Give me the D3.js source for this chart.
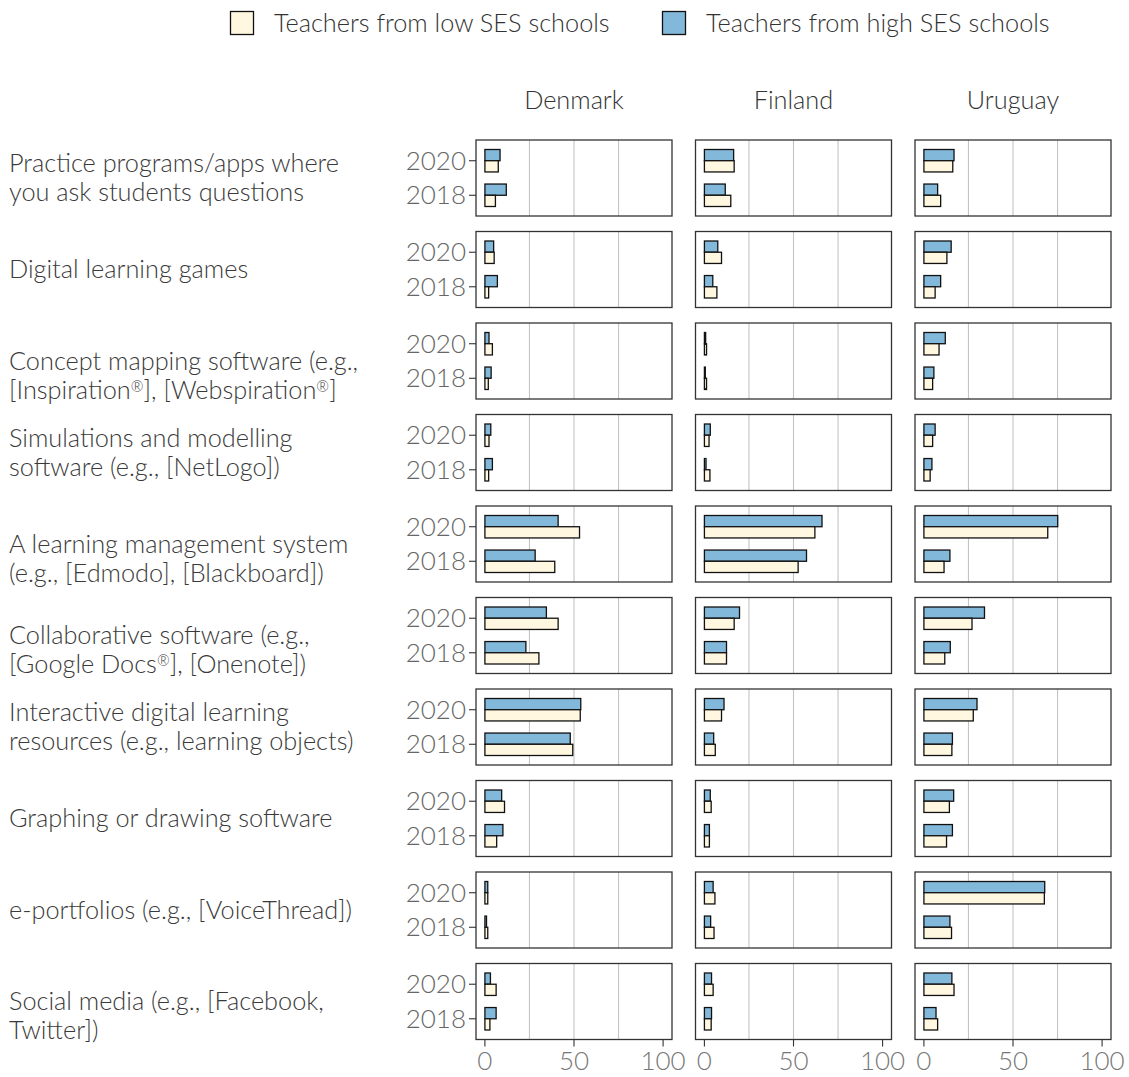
<!DOCTYPE html>
<html>
<head>
<meta charset="utf-8">
<script src="https://cdn.jsdelivr.net/npm/d3@7"></script>
<style>
  body { margin: 0; background: #fff; }
  svg text { font-family: Lato, "DejaVu Sans", sans-serif; font-weight: 300; }
</style>
</head>
<body>
<div id="chart"></div>
<script>
// row labels, pre-wrapped ('' = empty first line, as in the original)
const categories = [
  ['Practice programs/apps where', 'you ask students questions'],
  ['Digital learning games'],
  ['', 'Concept mapping software (e.g.,', '[Inspiration®], [Webspiration®]'],
  ['Simulations and modelling', 'software (e.g., [NetLogo])'],
  ['', 'A learning management system', '(e.g., [Edmodo], [Blackboard])'],
  ['', 'Collaborative software (e.g.,', '[Google Docs®], [Onenote])'],
  ['Interactive digital learning', 'resources (e.g., learning objects)'],
  ['Graphing or drawing software'],
  ['e-portfolios (e.g., [VoiceThread])'],
  ['', 'Social media (e.g., [Facebook,', 'Twitter])']
]
const countries = ['Denmark', 'Finland', 'Uruguay']
const years = ['2020', '2018']
const groups = ['high', 'low']
const groupLabels = { low: 'Teachers from low SES schools', high: 'Teachers from high SES schools' }
const xTicks = [0, 50, 100]
const xGrid = [25, 50, 75]

// values per category: [2020, 2018]
const denmarkHigh = [[8.5, 12.0], [4.9, 7.0], [2.3, 3.5], [3.3, 4.2], [41.1, 28.2], [34.5, 23.0], [53.8, 47.9], [9.4, 10.1], [1.6, 0.9], [3.1, 6.3]]
const denmarkLow  = [[7.5, 5.9], [5.2, 2.1], [4.2, 1.9], [2.3, 2.1], [53.1, 39.2], [41.1, 30.3], [53.5, 49.3], [11.0, 6.6], [1.6, 1.6], [6.3, 2.8]]
const finlandHigh = [[16.4, 11.7], [7.5, 4.7], [0.7, 0.5], [3.3, 0.9], [66.0, 57.3], [19.7, 12.4], [11.0, 5.2], [3.3, 2.8], [4.9, 3.5], [4.0, 4.0]]
const finlandLow  = [[16.7, 14.8], [9.6, 7.0], [1.2, 1.2], [2.6, 3.1], [62.0, 52.6], [16.7, 12.4], [9.6, 6.1], [3.8, 2.8], [5.9, 5.4], [4.9, 3.8]]
const uruguayHigh = [[16.9, 7.7], [15.3, 9.4], [12.0, 5.6], [6.3, 4.5], [75.1, 14.6], [34.0, 14.8], [29.8, 16.0], [16.7, 16.0], [67.8, 14.6], [15.7, 6.8]]
const uruguayLow  = [[16.2, 9.4], [12.9, 6.3], [8.5, 4.9], [4.9, 3.5], [69.5, 11.3], [27.0, 11.7], [27.7, 15.7], [14.3, 12.7], [67.6, 15.5], [16.9, 7.7]]

const values = {
  Denmark: { high: denmarkHigh, low: denmarkLow },
  Finland: { high: finlandHigh, low: finlandLow },
  Uruguay: { high: uruguayHigh, low: uruguayLow }
}

const width = 1129,
      height = 1077,
      panel = { left: 476, top: 140, w: 196, h: 76, gapX: 23.5, gapY: 15.5 },
      fontSize = 25.3,
      yearSize = 26,
      lineHeight = 29,
      colors = { high: '#82b8da', low: '#fff7e0' }

const svg = d3.select('#chart')
  .append('svg')
  .attr('width', width)
  .attr('height', height)

// scales
const x = d3.scaleLinear().domain([-5, 105]).range([0, panel.w])
const y = d3.scalePoint().domain(years).range([0, panel.h]).padding(0.6)
const sub = d3.scaleBand().domain(groups)
  .range([-y.step() * 0.325, y.step() * 0.325])

const colX = d3.scaleBand().domain(countries)
  .range([panel.left, panel.left + 3 * panel.w + 2 * panel.gapX])
  .paddingInner(panel.gapX / (panel.w + panel.gapX))
const rowY = d3.scaleBand().domain(d3.range(categories.length))
  .range([panel.top, panel.top + categories.length * panel.h + (categories.length - 1) * panel.gapY])
  .paddingInner(panel.gapY / (panel.h + panel.gapY))

// text with ® as superscript
const addLine = (sel, str) => {
  str.split(/(®)/).forEach(part => {
    if (part === '®') {
      sel.append('tspan')
        .attr('baseline-shift', '45%')
        .attr('font-size', fontSize * 0.6)
        .text(part)
    } else if (part) {
      sel.append('tspan').text(part)
    }
  })
}

// legend
const legendItems = [{ key: 'low', x: 230 }, { key: 'high', x: 662 }]
const legend = svg.selectAll('g.legend')
  .data(legendItems)
  .enter()
  .append('g')
    .attr('class', 'legend')
    .attr('transform', d => `translate(${d.x}, 11)`)
legend.append('rect')
  .attr('x', 0.5).attr('y', 0.5)
  .attr('width', 23).attr('height', 23)
  .attr('fill', d => colors[d.key])
  .attr('stroke', '#111')
  .attr('stroke-width', 1.3)
legend.append('text')
  .attr('x', 44)
  .attr('y', 12)
  .attr('dy', '0.35em')
  .attr('font-size', fontSize)
  .attr('fill', '#333')
  .text(d => groupLabels[d.key])

// column headers
svg.selectAll('text.header')
  .data(countries)
  .enter()
  .append('text')
    .attr('class', 'header')
    .attr('x', d => colX(d) + panel.w / 2)
    .attr('y', 100)
    .attr('dy', '0.35em')
    .attr('text-anchor', 'middle')
    .attr('font-size', fontSize)
    .attr('fill', '#333')
    .text(d => d)

// row labels
categories.forEach((lines, i) => {
  const cy = rowY(i) + panel.h / 2
  const startY = cy - (lines.length - 1) * lineHeight / 2
  lines.forEach((line, j) => {
    if (!line) return
    const t = svg.append('text')
      .attr('x', 9)
      .attr('y', startY + j * lineHeight)
      .attr('dy', '0.35em')
      .attr('font-size', fontSize)
      .attr('fill', '#3a3a3a')
    addLine(t, line)
  })
})

// panels
categories.forEach((lines, i) => {
  countries.forEach((country, c) => {
    const g = svg.append('g')
      .attr('transform', `translate(${colX(country)}, ${rowY(i)})`)

    g.selectAll('line.grid')
      .data(xGrid)
      .enter()
      .append('line')
        .attr('x1', d => x(d)).attr('x2', d => x(d))
        .attr('y1', 0).attr('y2', panel.h)
        .attr('stroke', '#c4c4c4')
        .attr('stroke-width', 1.1)

    const bars = []
    years.forEach((yr, k) => {
      groups.forEach(grp => {
        bars.push({ year: yr, group: grp, value: values[country][grp][i][k] })
      })
    })

    g.selectAll('rect.bar')
      .data(bars)
      .enter()
      .append('rect')
        .attr('class', 'bar')
        .attr('x', x(0))
        .attr('y', d => y(d.year) + sub(d.group))
        .attr('width', d => x(d.value) - x(0))
        .attr('height', sub.bandwidth())
        .attr('fill', d => colors[d.group])
        .attr('stroke', '#111')
        .attr('stroke-width', 1.3)

    g.append('rect')
      .attr('width', panel.w)
      .attr('height', panel.h)
      .attr('fill', 'none')
      .attr('stroke', '#333')
      .attr('stroke-width', 1.3)

    // y axis on the first column
    if (c === 0) {
      g.selectAll('line.ytick')
        .data(years)
        .enter()
        .append('line')
          .attr('x1', -7).attr('x2', 0)
          .attr('y1', d => y(d)).attr('y2', d => y(d))
          .attr('stroke', '#333')
          .attr('stroke-width', 1.1)
      g.selectAll('text.ylab')
        .data(years)
        .enter()
        .append('text')
          .attr('x', -10)
          .attr('y', d => y(d))
          .attr('dy', '0.35em')
          .attr('text-anchor', 'end')
          .attr('font-size', yearSize)
          .attr('fill', '#666')
          .text(d => d)
    }

    // x axis on the last row
    if (i === categories.length - 1) {
      g.selectAll('line.xtick')
        .data(xTicks)
        .enter()
        .append('line')
          .attr('x1', d => x(d)).attr('x2', d => x(d))
          .attr('y1', panel.h).attr('y2', panel.h + 7)
          .attr('stroke', '#333')
          .attr('stroke-width', 1.1)
      g.selectAll('text.xlab')
        .data(xTicks)
        .enter()
        .append('text')
          .attr('x', d => x(d))
          .attr('y', panel.h + 21)
          .attr('dy', '0.35em')
          .attr('text-anchor', 'middle')
          .attr('font-size', yearSize)
          .attr('fill', '#777')
          .text(d => d)
    }
  })
})
</script>
</body>
</html>
